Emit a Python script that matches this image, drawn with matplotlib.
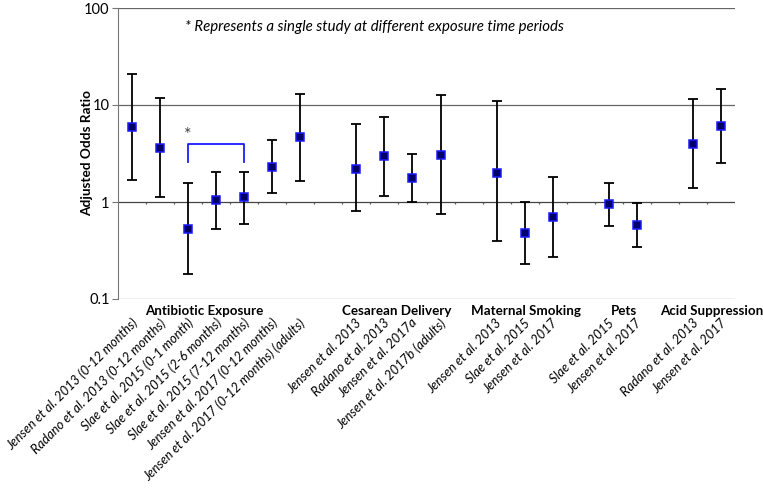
import matplotlib
matplotlib.use("Agg")
import matplotlib.pyplot as plt
import numpy as np

plt.rcParams['font.family'] = ['Lato', 'DejaVu Sans']

labels = [
    "Jensen et al. 2013 (0-12 months)",
    "Radano et al. 2013 (0-12 months)",
    "Slae et al. 2015 (0-1 month)",
    "Slae et al. 2015 (2-6 months)",
    "Slae et al. 2015 (7-12 months)",
    "Jensen et al. 2017 (0-12 months)",
    "Jensen et al. 2017 (0-12 months) (adults)",
    "Jensen et al. 2013",
    "Radano et al. 2013",
    "Jensen et al. 2017a",
    "Jensen et al. 2017b (adults)",
    "Jensen et al. 2013",
    "Slae et al. 2015",
    "Jensen et al. 2017",
    "Slae et al. 2015",
    "Jensen et al. 2017",
    "Radano et al. 2013",
    "Jensen et al. 2017",
]
slots = [0, 1, 2, 3, 4, 5, 6, 8, 9, 10, 11, 13, 14, 15, 17, 18, 20, 21]
odds = [6.0, 3.6, 0.53, 1.04, 1.12, 2.31, 4.65, 2.2, 2.96, 1.78, 3.07, 2.0, 0.48, 0.70, 0.95, 0.58, 3.99, 6.08]
lower = [1.70, 1.12, 0.18, 0.53, 0.60, 1.23, 1.63, 0.81, 1.15, 1.01, 0.75, 0.40, 0.23, 0.27, 0.56, 0.34, 1.40, 2.54]
upper = [20.9, 11.7, 1.57, 2.04, 2.04, 4.36, 13.1, 6.41, 7.52, 3.10, 12.6, 11.1, 1.01, 1.80, 1.58, 0.98, 11.4, 14.5]
groups = ["Antibiotic Exposure", "Cesarean Delivery", "Maternal Smoking", "Pets", "Acid Suppression"]
group_centers = [3.07, 9.93, 14.54, 18.04, 21.18]
n_slots = 22

fig = plt.figure(figsize=(7.63, 4.91), dpi=100)
ax = fig.add_axes([118/763, 1-299/491, 617/763, 291/491])
x = np.array(slots) + 0.5
odds = np.array(odds); lower = np.array(lower); upper = np.array(upper)

ax.set_yscale('log')
ax.set_ylim(0.1, 100)
ax.set_xlim(0, n_slots)

for yv, c in [(100, '#666666'), (10, '#666666'), (0.1, '#8a8a8a')]:
    ax.axhline(yv, color=c, lw=0.9, zorder=1)
ax.axhline(1, color='#444444', lw=0.9, zorder=1)
# category ticks on the y=1 axis
ax.vlines(np.arange(1, n_slots + 1), 0.96, 1.0, color='#555555', lw=0.9, zorder=1)

ax.errorbar(x, odds, yerr=[odds - lower, upper - odds], fmt='none',
            ecolor='black', elinewidth=1.3, capsize=3.5, capthick=1.3, zorder=2)
ax.plot(x, odds, 's', ms=6, mfc='#000066', mec='#1a1aff', mew=1.1, zorder=3, ls='none')

for s in ['top', 'right', 'bottom']:
    ax.spines[s].set_visible(False)
ax.spines['left'].set_color('#777777')
ax.set_xticks([])
ax.set_yticks([0.1, 1, 10, 100])
ax.set_yticklabels(['0.1', '1', '10', '100'])
ax.yaxis.set_minor_locator(matplotlib.ticker.NullLocator())
ax.tick_params(axis='y', length=4, labelsize=10.5, color='#777777', pad=2)
ax.set_ylabel('Adjusted Odds Ratio', fontsize=9.8, fontweight='bold')
ax.yaxis.set_label_coords(-0.0405, 0.5)

# bracket
bx0, bx1 = x[2], x[4]
ax.plot([bx0, bx0, bx1, bx1], [2.6, 4.0, 4.0, 2.6], color='#1a1aff', lw=1.3, zorder=2)
ax.text(bx0, 4.85, '*', ha='center', va='center', fontsize=13, color='#444444')

ax.text(2.4, 63, '* Represents a single study at different exposure time periods',
        fontsize=10.8, style='italic', va='center', ha='left')

for g, c in zip(groups, group_centers):
    ax.text(c, 0.087, g, ha='center', va='top', fontsize=9.6, fontweight='bold')

for xi, lab in zip(x, labels):
    ax.text(xi - 0.04, 0.066, lab, rotation=45, ha='right', va='top', rotation_mode='anchor',
            fontsize=9.4, style='italic')

fig.savefig('out.png', dpi=100)
